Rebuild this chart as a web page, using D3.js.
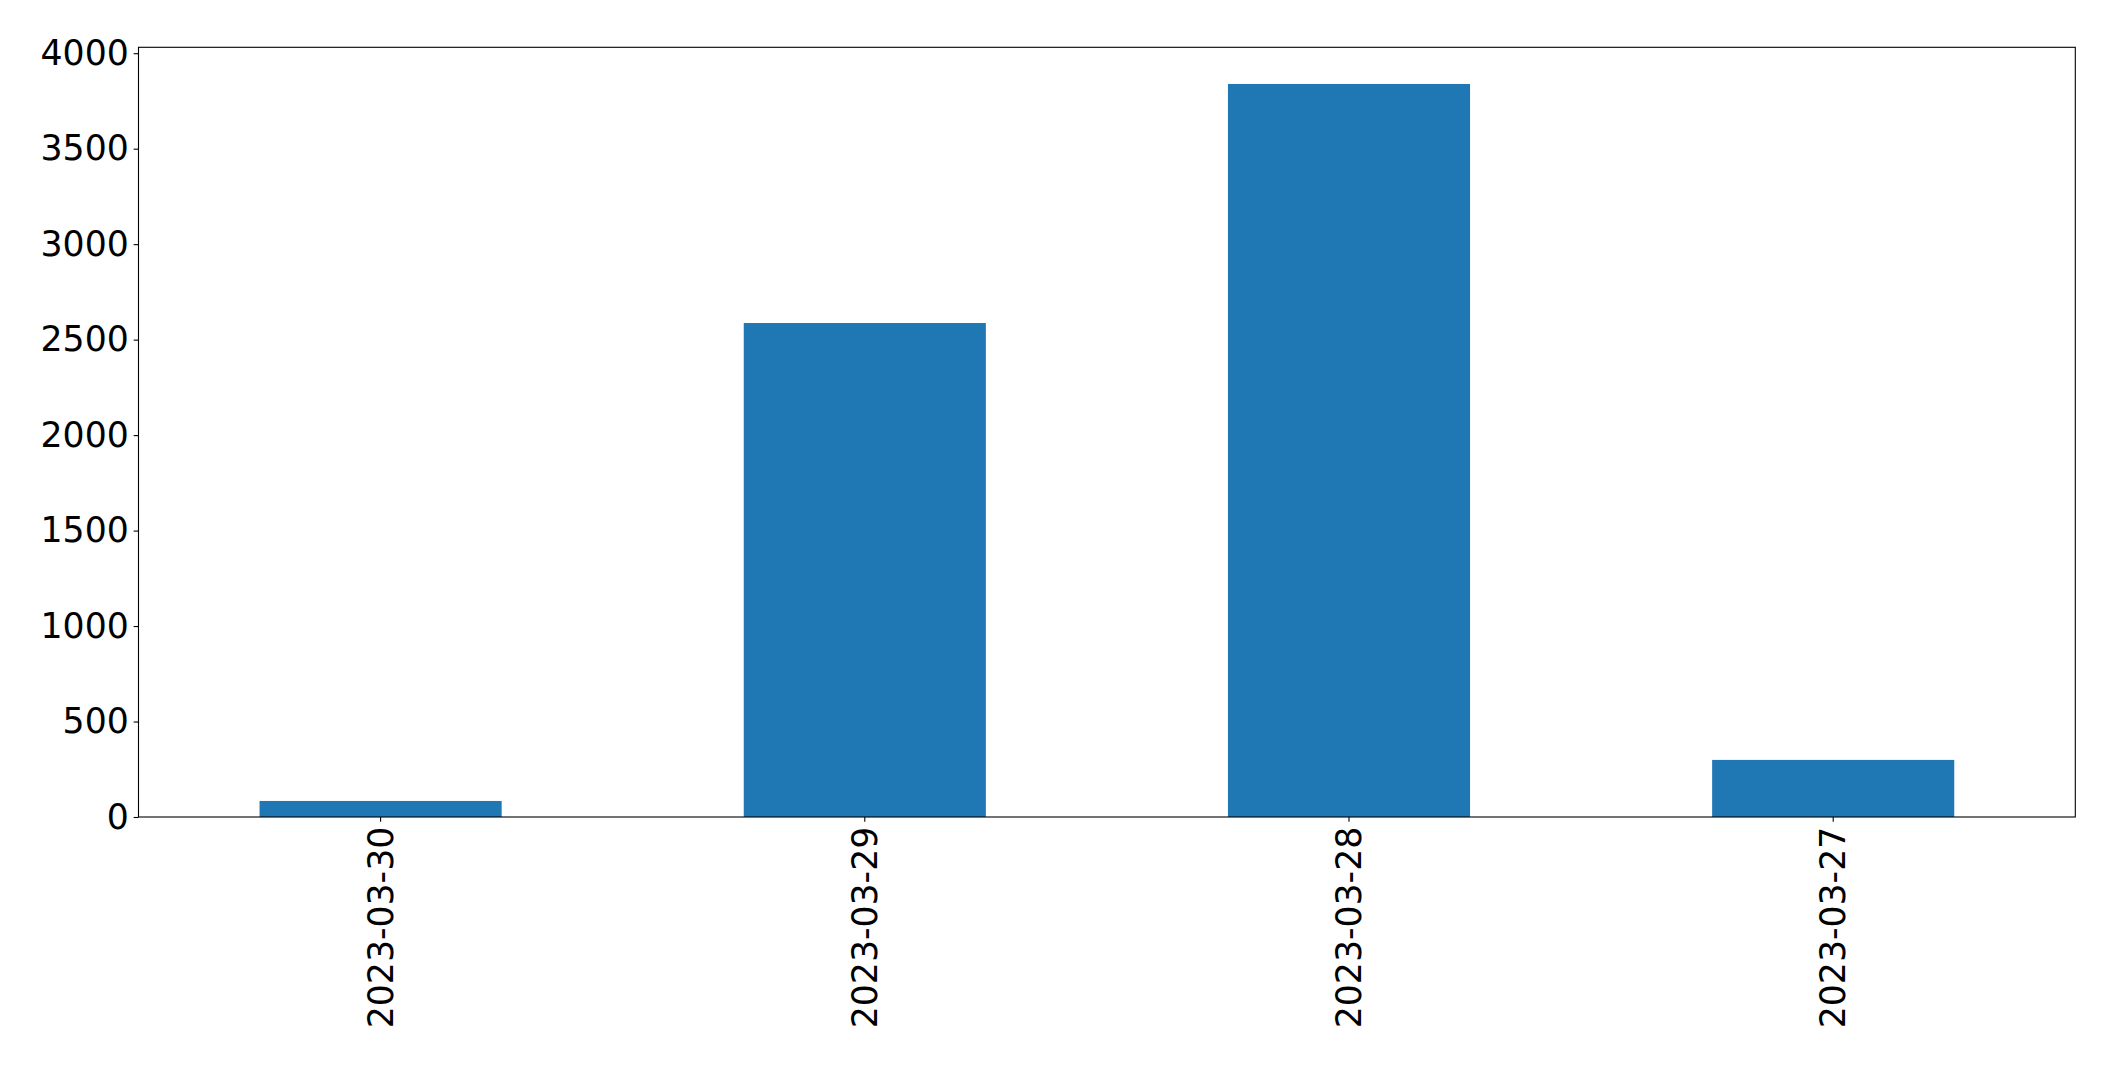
<!DOCTYPE html>
<html>
<head>
<meta charset="utf-8">
<script src="https://cdn.jsdelivr.net/npm/d3@7"></script>
<style>
  html, body { margin: 0; padding: 0; background: #ffffff; }
  svg { display: block; }
</style>
</head>
<body>
<script>
const categories = ["2023-03-30", "2023-03-29", "2023-03-28", "2023-03-27"];
const values = [84, 2587, 3839, 299];
const yTicks = [0, 500, 1000, 1500, 2000, 2500, 3000, 3500, 4000];

const W = 2115, H = 1069;
const margin = { left: 138.5, right: W - 2075.3, top: 47.3, bottom: H - 817 };
const fontSize = 34.7;
const tickLen = 4.86, tickPad = 4.86;

const svg = d3.select("body").append("svg")
  .attr("width", W).attr("height", H)
  .style("font-family", "'DejaVu Sans', sans-serif");

const x = d3.scaleBand()
  .domain(categories)
  .range([margin.left, W - margin.right])
  .paddingInner(0.5)
  .paddingOuter(0.25);

const yMax = d3.max(values) * 1.05;
const y = d3.scaleLinear()
  .domain([0, yMax])
  .range([H - margin.bottom, margin.top]);

// bars
svg.append("g").selectAll("rect")
  .data(categories)
  .join("rect")
  .attr("x", d => x(d))
  .attr("width", x.bandwidth())
  .attr("y", (d, i) => y(values[i]))
  .attr("height", (d, i) => y(0) - y(values[i]))
  .attr("fill", "#1f77b4");

// y axis
const yAxis = svg.append("g")
  .attr("transform", `translate(${margin.left},0)`)
  .call(d3.axisLeft(y).tickValues(yTicks).tickFormat(d3.format("d"))
    .tickSize(tickLen).tickPadding(tickPad).tickSizeOuter(0));
yAxis.select(".domain").remove();
yAxis.selectAll(".tick line").attr("stroke", "#000").attr("stroke-width", 1.1);
yAxis.selectAll(".tick text")
  .attr("fill", "#000")
  .style("font-size", fontSize + "px")
  .style("font-family", "'DejaVu Sans', sans-serif");

// x axis
const xAxis = svg.append("g")
  .attr("transform", `translate(0,${H - margin.bottom})`)
  .call(d3.axisBottom(x).tickSize(tickLen).tickPadding(tickPad).tickSizeOuter(0));
xAxis.select(".domain").remove();
xAxis.selectAll(".tick line").attr("stroke", "#000").attr("stroke-width", 1.1);
xAxis.selectAll(".tick text")
  .attr("fill", "#000")
  .style("font-size", fontSize + "px")
  .style("font-family", "'DejaVu Sans', sans-serif")
  .attr("text-anchor", "end")
  .attr("x", 0)
  .attr("y", 0)
  .attr("dy", "0.35em")
  .attr("transform", `translate(0,${tickLen + tickPad}) rotate(-90)`);

// frame
svg.append("rect")
  .attr("x", margin.left)
  .attr("y", margin.top)
  .attr("width", W - margin.right - margin.left)
  .attr("height", H - margin.bottom - margin.top)
  .attr("fill", "none")
  .attr("stroke", "#000")
  .attr("stroke-width", 1.1);
</script>
</body>
</html>
